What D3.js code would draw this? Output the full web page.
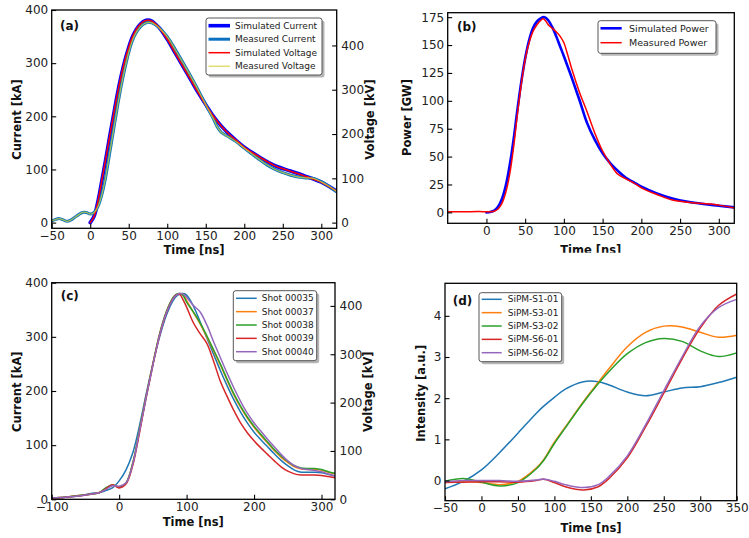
<!DOCTYPE html>
<html><head><meta charset="utf-8">
<script src="https://cdn.jsdelivr.net/npm/d3@7"></script>
<style>body{margin:0;background:#fff}svg{display:block}text{font-family:"DejaVu Sans",sans-serif}</style>
</head><body><svg id="c" width="749" height="538"></svg>
<script>
// ---------- Panel (a) ----------
const aTimeSim = [0,5,10,15,20,25,30,35,40,45,50,55,60,65,70,75,80,85,90,100,110,120,130,140,150,160,170,180,190,200,220,240,260,280,300,320];
const aSimCurrent = [0,12,40,78,118,160,200,240,275,305,330,350,364,373,379,381,379,373,366,345,320,295,270,245,222,200,182,167,154,142,123,107,97,87,76,59];
const aSimVoltage = [0,14,48,94,142,192,240,288,330,366,396,420,437,448,455,457,455,448,439,414,384,354,324,294,266,240,218,200,185,170,148,128,116,104,91,71];
const aTimeMeas = [-50,-45,-40,-35,-30,-25,-20,-15,-10,-5,0,5,10,15,20,25,30,35,40,45,50,55,60,65,70,75,80,85,90,100,110,120,130,140,150,160,165,170,180,190,200,210,220,230,240,250,260,270,280,290,300,310,320];
const aMeasCurrent = [3,6,7.5,5,2.5,5,10,15,19,19,16,19,30,52,85,128,172,215,255,290,320,343,358,368,374,377,376,372,366,350,327,302,277,250,222,195,180,170,161,152,140,129,118,108,100,94,89,86,84,83,77,68,58];
const aMeasVoltage = [4,7,9,6,3,6,12,18,23,23,19,23,36,62,102,154,206,258,306,348,384,412,430,442,449,452,451,446,439,420,392,362,332,300,266,234,216,204,193,182,168,155,142,130,120,113,107,103,101,100,92,82,70];
const aXTicks = [-50,0,50,100,150,200,250,300];
const aYTicks = [0,100,200,300,400];
const aY2Ticks = [0,100,200,300,400];
const aLegend = ["Simulated Current","Measured Current","Simulated Voltage","Measured Voltage"];

// ---------- Panel (b) ----------
const bTimeSim = [0,5,10,15,20,25,30,35,40,45,50,55,60,65,70,75,80,85,90,95,100,110,120,130,140,150,160,170,180,190,200,220,240,260,280,300,320];
const bSimPower = [0,0.3,1.5,5,12,24,42,65,92,117,138,154,165,171,174,175,172,166,158,149,140,121,101,80,65,53,44,37,31,27,23,17,12.5,9.5,7.5,6,4.5];
const bTimeMeas = [-50,-30,-10,0,5,10,15,20,25,30,35,40,45,50,55,60,65,70,73,76,80,85,90,95,100,105,110,120,130,140,150,160,165,170,180,190,200,220,240,260,280,290,300,320];
const bMeasPower = [0.5,0.5,0.7,0.5,0.5,1,3,8,18,34,58,88,115,137,152,162,168,172,173.5,172,168,165,162,158,152,141,129,108,90,71,55,43,38,34,30,26.5,22,16,11,9,8,7.5,6.5,4];
const bXTicks = [0,50,100,150,200,250,300];
const bYTicks = [0,25,50,75,100,125,150,175];
const bLegend = ["Simulated Power","Measured Power"];

// ---------- Panel (c) ----------
const cTime = [-100,-80,-60,-40,-30,-20,-10,0,10,20,30,40,50,60,70,80,85,90,95,100,110,120,130,140,150,160,170,180,190,200,210,220,230,240,250,260,270,280,290,300,310,320];
const cShot35 = [3,4,6,11,12,16,21,34,54,85,135,194,250,300,340,367,375,379,380,377,357,328,298,268,238,210,184,161,141,124,110,97,84,72,62,54,50,50,50,49,46,43];
const cShot37 = [3,4,7,10,12,20,26,23,30,66,126,190,250,305,346,372,378,380,378,367,345,324,300,274,248,220,193,170,150,133,118,104,90,78,68,60,56,55,55,54,50,47];
const cShot38 = [3,4,7,10,12,21,27,22,30,66,126,190,250,306,347,373,379,380,376,364,346,326,302,276,250,222,195,172,152,135,120,106,92,80,70,62,58,57,57,55,51,48];
const cShot39 = [3,4,6,10,12,19,27,21,28,62,122,188,248,303,344,371,378,378,368,355,326,306,288,255,218,190,164,141,123,108,95,83,71,60,52,47,45,45,45,44,42,40];
const cShot40 = [3,4,6,10,12,18,25,24,30,64,124,188,248,303,344,370,377,380,379,373,358,346,322,291,262,233,206,181,159,141,126,111,97,83,71,62,57,55,53,51,47,43];
const cXTicks = [-100,0,100,200,300];
const cYTicks = [0,100,200,300,400];
const cY2Ticks = [0,100,200,300,400];
const cLegend = ["Shot 00035","Shot 00037","Shot 00038","Shot 00039","Shot 00040"];

// ---------- Panel (d) ----------
const dTime = [-50,-25,0,25,50,75,85,100,115,140,160,175,200,225,250,275,300,325,350];
const dS1_01 = [-0.2,-0.02,0.26,0.68,1.15,1.63,1.8,2.02,2.22,2.4,2.4,2.32,2.15,2.06,2.15,2.25,2.28,2.38,2.51];
const dS3_01 = [-0.05,-0.02,-0.05,-0.1,-0.02,0.3,0.5,0.93,1.3,1.92,2.38,2.72,3.25,3.6,3.75,3.73,3.6,3.48,3.53];
const dS3_02 = [-0.02,0.05,-0.04,-0.13,-0.05,0.28,0.48,0.9,1.28,1.9,2.35,2.65,3.08,3.35,3.45,3.38,3.15,3.01,3.1];
const dS6_01 = [-0.05,-0.04,-0.03,-0.03,-0.04,0.0,0.03,-0.05,-0.15,-0.23,-0.15,0.05,0.55,1.3,2.12,2.95,3.7,4.25,4.53];
const dS6_02 = [-0.03,0.0,0.0,0.0,-0.02,0.01,0.04,-0.02,-0.1,-0.17,-0.1,0.1,0.6,1.35,2.18,3.0,3.75,4.2,4.4];
const dXTicks = [-50,0,50,100,150,200,250,300,350];
const dYTicks = [0,1,2,3,4];
const dLegend = ["SiPM-S1-01","SiPM-S3-01","SiPM-S3-02","SiPM-S6-01","SiPM-S6-02"];

const tab = ["#1f77b4","#ff7f0e","#2ca02c","#d62728","#9467bd"];
const svg = d3.select("#c");
const fmt = d3.format("");
let clipId = 0;

function panel(cfg) {
  const g = svg.append("g");
  const x = d3.scaleLinear().domain(cfg.xd).range([cfg.l, cfg.r]);
  const y = d3.scaleLinear().domain(cfg.yd).range([cfg.b, cfg.t]);
  const y2 = cfg.y2d ? d3.scaleLinear().domain(cfg.y2d).range([cfg.b, cfg.t]) : null;
  const id = "clip" + (clipId++);
  svg.append("clipPath").attr("id", id).append("rect")
    .attr("x", cfg.l).attr("y", cfg.t).attr("width", cfg.r - cfg.l).attr("height", cfg.b - cfg.t);
  const plot = g.append("g").attr("clip-path", `url(#${id})`);
  cfg.series.forEach(s => {
    const sc = s.axis === "y2" ? y2 : y;
    const pts = s.xs.map((t, i) => [t, s.ys[i]]);
    plot.append("path").datum(pts)
      .attr("fill", "none").attr("stroke", s.color).attr("stroke-width", s.w)
      .attr("stroke-opacity", s.op || 1).attr("stroke-linejoin", "round").attr("stroke-linecap", "round")
      .attr("d", d3.line().x(d => x(d[0])).y(d => sc(d[1])).curve(d3.curveCatmullRom.alpha(0.5)));
  });
  // axes
  const styleAxis = (a) => {
    a.select(".domain").remove();
    a.selectAll(".tick line").attr("stroke", "#000").attr("stroke-width", 1.1);
    a.selectAll(".tick text").attr("font-size", 12).attr("fill", "#222").attr("font-family", "DejaVu Sans");
  };
  g.append("g").attr("transform", `translate(0,${cfg.b})`)
    .call(d3.axisBottom(x).tickValues(cfg.xt).tickFormat(fmt).tickSizeInner(-4.5).tickSizeOuter(0).tickPadding(3))
    .call(styleAxis);
  g.append("g").attr("transform", `translate(${cfg.l},0)`)
    .call(d3.axisLeft(y).tickValues(cfg.yt).tickFormat(fmt).tickSizeInner(-4.5).tickSizeOuter(0).tickPadding(3.5))
    .call(styleAxis);
  if (y2) {
    g.append("g").attr("transform", `translate(${cfg.r},0)`)
      .call(d3.axisRight(y2).tickValues(cfg.y2t).tickFormat(fmt).tickSizeInner(-4.5).tickSizeOuter(0).tickPadding(4.5))
      .call(styleAxis);
  }
  g.append("rect").attr("x", cfg.l).attr("y", cfg.t).attr("width", cfg.r - cfg.l).attr("height", cfg.b - cfg.t)
    .attr("fill", "none").attr("stroke", "#000").attr("stroke-width", 1.3);
  // titles
  const title = (txt, tx, ty, rot, clipY) => {
    const t = g.append("text").text(txt).attr("font-weight", "bold").attr("font-size", 11.5).attr("fill", "#111")
      .attr("text-anchor", "middle");
    if (rot) t.attr("transform", `translate(${tx},${ty}) rotate(-90)`).attr("dominant-baseline", "central");
    else t.attr("x", tx).attr("y", ty);
    if (clipY) {
      const cid = "clipT" + (clipId++);
      svg.append("clipPath").attr("id", cid).append("rect").attr("x", 0).attr("y", 0).attr("width", 749).attr("height", clipY);
      t.attr("clip-path", `url(#${cid})`);
    }
  };
  title(cfg.xlabel[0], cfg.xlabel[1], cfg.xlabel[2], false, cfg.xlabel[3]);
  title(cfg.ylabel[0], cfg.ylabel[1], cfg.ylabel[2], true);
  if (cfg.y2label) title(cfg.y2label[0], cfg.y2label[1], cfg.y2label[2], true);
  g.append("text").text(cfg.tag[0]).attr("x", cfg.tag[1]).attr("y", cfg.tag[2])
    .attr("font-weight", "bold").attr("font-size", 12).attr("fill", "#111");
  // legend
  const L = cfg.legend;
  const lg = g.append("g");
  lg.append("rect").attr("x", L.x + 2.5).attr("y", L.y + 2.5).attr("width", L.w).attr("height", L.h)
    .attr("rx", 2.5).attr("fill", "#7a7a7a").attr("opacity", 0.55);
  lg.append("rect").attr("x", L.x).attr("y", L.y).attr("width", L.w).attr("height", L.h)
    .attr("rx", 2.5).attr("fill", "#fff").attr("stroke", "#444").attr("stroke-width", 0.9);
  L.items.forEach((it, i) => {
    const yy = L.y0 + i * L.dy;
    lg.append("line").attr("x1", L.lx0).attr("x2", L.lx1).attr("y1", yy).attr("y2", yy)
      .attr("stroke", it.color).attr("stroke-width", it.w);
    lg.append("text").text(it.label).attr("x", L.tx).attr("y", yy).attr("dominant-baseline", "central")
      .attr("font-size", L.fs).attr("fill", "#222");
  });
}

// (a)
panel({
  l: 51.7, r: 336.7, t: 10, b: 228.3,
  xd: [-50, 320], yd: [-10.7, 400], y2d: [-12.8, 480],
  xt: aXTicks, yt: aYTicks, y2t: aY2Ticks,
  series: [
    {xs: aTimeSim, ys: aSimCurrent, color: "#0000ff", w: 3.6},
    {xs: aTimeMeas, ys: aMeasCurrent, color: "#0a72c0", w: 3},
    {xs: aTimeSim, ys: aSimVoltage, axis: "y2", color: "#ff0000", w: 1.5},
    {xs: aTimeMeas, ys: aMeasVoltage, axis: "y2", color: "#c8d040", w: 1.3, op: 0.8}
  ],
  xlabel: ["Time [ns]", 194, 254], ylabel: ["Current [kA]", 16.7, 119.5], y2label: ["Voltage [kV]", 370, 119.5],
  tag: ["(a)", 60, 30],
  legend: {x: 206, y: 18, w: 116, h: 57, y0: 25.7, dy: 13.5, lx0: 208.5, lx1: 230, tx: 235, fs: 9,
    items: [
      {label: aLegend[0], color: "#0000ff", w: 3.6},
      {label: aLegend[1], color: "#0a72c0", w: 3},
      {label: aLegend[2], color: "#ff0000", w: 1.5},
      {label: aLegend[3], color: "#d8d040", w: 1.1}
    ]}
});

// (b)
panel({
  l: 447.7, r: 734.3, t: 12.7, b: 223.3,
  xd: [-50, 320], yd: [-9.8, 179],
  xt: bXTicks, yt: bYTicks,
  series: [
    {xs: bTimeSim, ys: bSimPower, color: "#0000ff", w: 2.6},
    {xs: bTimeMeas, ys: bMeasPower, color: "#ff0000", w: 1.5}
  ],
  xlabel: ["Time [ns]", 590.7, 254, 252.8], ylabel: ["Power [GW]", 407.3, 117.5],
  tag: ["(b)", 457, 31],
  legend: {x: 598, y: 20.7, w: 118, h: 32.6, y0: 28.3, dy: 14.4, lx0: 600.5, lx1: 621.7, tx: 629, fs: 9.5,
    items: [
      {label: bLegend[0], color: "#0000ff", w: 2.6},
      {label: bLegend[1], color: "#ff0000", w: 1.5}
    ]}
});

// (c)
panel({
  l: 51.7, r: 335, t: 282.7, b: 499.3,
  xd: [-100, 320], yd: [0, 400], y2d: [0, 448],
  xt: cXTicks, yt: cYTicks, y2t: cY2Ticks,
  series: [cShot35, cShot37, cShot38, cShot39, cShot40].map((ys, i) => ({xs: cTime, ys, color: tab[i], w: 1.5})),
  xlabel: ["Time [ns]", 193.3, 525.5], ylabel: ["Current [kA]", 17.3, 391.7], y2label: ["Voltage [kV]", 368.3, 391.7],
  tag: ["(c)", 60.7, 299.5],
  legend: {x: 233.3, y: 290.7, w: 83.4, h: 70, y0: 298.3, dy: 13.35, lx0: 236, lx1: 256.7, tx: 261.7, fs: 9,
    items: cLegend.map((label, i) => ({label, color: tab[i], w: 1.5}))}
});

// (d)
panel({
  l: 445, r: 736.7, t: 283.3, b: 500.7,
  xd: [-50, 350], yd: [-0.49, 4.79],
  xt: dXTicks, yt: dYTicks,
  series: [dS1_01, dS3_01, dS3_02, dS6_01, dS6_02].map((ys, i) => ({xs: dTime, ys, color: tab[i], w: 1.5})),
  xlabel: ["Time [ns]", 591, 532], ylabel: ["Intensity [a.u.]", 420.7, 393.3],
  tag: ["(d)", 452.7, 304.5],
  legend: {x: 479, y: 292.7, w: 82.7, h: 69, y0: 299.3, dy: 13.35, lx0: 481.7, lx1: 501.7, tx: 507.7, fs: 9,
    items: dLegend.map((label, i) => ({label, color: tab[i], w: 1.5}))}
});
</script>
</body></html>
